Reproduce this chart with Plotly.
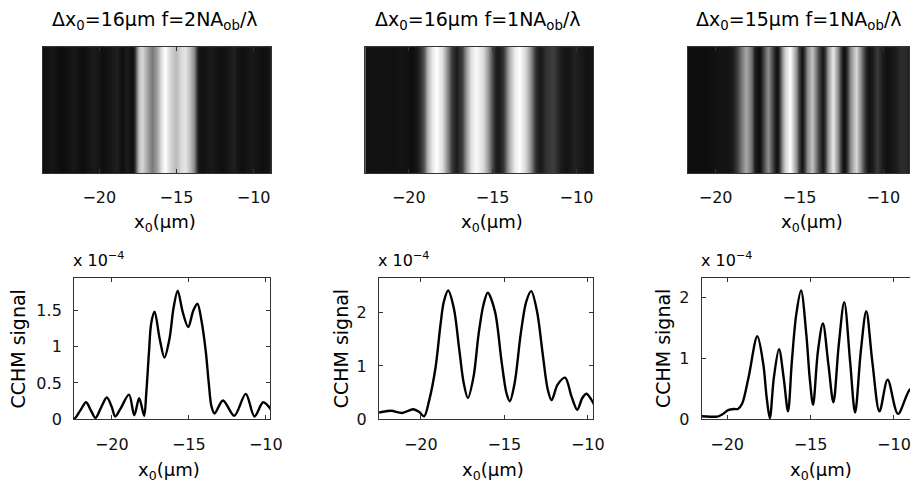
import plotly.graph_objects as go

# ---------------- data (values in units of 1e-4) ----------------
x_a = [-24.0, -23.7, -23.05, -22.45, -22.05, -21.67, -21.35, -21.06, -20.7, -20.32, -20.0,
       -19.78, -19.45, -18.88, -18.54, -18.22, -17.9, -17.76, -17.58, -17.44, -17.22,
       -16.9, -16.58, -16.26, -15.99, -15.72, -15.4, -15.04, -14.7, -14.44, -14.17,
       -13.9, -13.7, -13.53, -13.33, -12.78, -12.05, -11.3, -10.74, -10.17, -9.7,
       -9.45, -8.9, -8.6]
y_a = [0.1, 0.03, 0.2, 0.01, 0.12, 0.235, 0.12, 0.02, 0.16, 0.30, 0.17,
       0.04, 0.14, 0.34, 0.056, 0.29, 0.05, 0.36, 0.94, 1.32, 1.48,
       1.12, 0.85, 1.10, 1.53, 1.77, 1.48, 1.27, 1.50, 1.59, 1.35,
       0.94, 0.49, 0.18, 0.08, 0.26, 0.05, 0.35, 0.04, 0.235, 0.145,
       0.03, 0.2, 0.15]

x_b = [-22.9, -22.5, -21.78, -21.12, -20.45, -20.1, -19.8, -19.5, -19.11, -18.82,
       -18.62, -18.36, -18.02, -17.69, -17.43, -17.18, -16.84, -16.54, -16.25, -15.99,
       -15.56, -15.17, -14.87, -14.67, -14.38, -14.02, -13.69, -13.39, -13.04, -12.7,
       -12.4, -12.17, -11.81, -11.36, -10.98, -10.63, -10.33, -10.08, -9.68, -9.4,
       -8.8]
y_b = [0.12, 0.13, 0.16, 0.12, 0.19, 0.14, 0.055, 0.35, 0.98, 1.77,
       2.2, 2.41, 2.08, 1.29, 0.68, 0.40, 0.80, 1.59, 2.14, 2.37,
       2.02, 1.10, 0.49, 0.34, 0.68, 1.59, 2.2, 2.40, 2.02, 1.22,
       0.56, 0.36, 0.65, 0.78, 0.43, 0.18, 0.40, 0.48, 0.31, 0.15,
       0.3]

x_c = [-21.9, -21.52, -20.59, -20.3, -19.94, -19.6, -19.35, -19.11, -18.72, -18.19,
       -17.83, -17.63, -17.44, -17.2, -16.89, -16.61, -16.35, -16.12, -15.86, -15.57,
       -15.25, -15.05, -14.85, -14.56, -14.26, -13.93, -13.63, -13.31, -12.98, -12.63,
       -12.33, -11.99, -11.66, -11.3, -10.87, -10.38, -9.76, -9.04, -8.7, -8.2]
y_c = [0.05, 0.05, 0.045, 0.08, 0.15, 0.17, 0.17, 0.25, 0.68, 1.36,
       0.90, 0.36, 0.02, 0.68, 1.15, 0.68, 0.13, 0.95, 1.71, 2.11,
       1.38, 0.68, 0.24, 1.11, 1.57, 0.90, 0.28, 1.22, 1.92, 0.95,
       0.11, 1.11, 1.77, 0.95, 0.13, 0.65, 0.09, 0.49, 0.5, 0.3]

titles = ["Δx<sub>0</sub>=16μm f=2NA<sub>ob</sub>/λ",
          "Δx<sub>0</sub>=16μm f=1NA<sub>ob</sub>/λ",
          "Δx<sub>0</sub>=15μm f=1NA<sub>ob</sub>/λ"]
xlabel = "x<sub>0</sub>(μm)"
ylabel = "CCHM signal"
scale_label = "x 10<sup>−4</sup>"
x_tick_vals = [-20, -15, -10]
y_ticks = [[0, 0.5, 1, 1.5], [0, 1, 2], [0, 1, 2]]

# ---------------- layout helpers ----------------
W, H = 922, 495
FONT = "DejaVu Sans, Verdana, sans-serif"
AX = "#333333"
GRAY = [[0, "#0c0c0c"], [0.17, "#1c1c1c"], [0.32, "#3e3e3e"], [0.5, "#808080"],
        [0.65, "#aaaaaa"], [1, "#ffffff"]]


def px(v):
    return v / W


def py(v):
    return 1 - v / H


series = [(x_a, y_a), (x_b, y_b), (x_c, y_c)]

# pixel geometry of panels
hm_dom_x = [(43.5, 275), (370, 601), (697, 922)]
hm_dom_y = (48, 177)
hm_range = [[-23.65, -8.85], [-22.6, -9.0], [-21.65, -8.41]]

ln_dom_x = [(75, 274), (384, 601), (711, 922)]
ln_dom_y = (284, 428)
ln_xrange = [[-22.45, -9.7], [-22.5, -9.68], [-21.52, -9.04]]
ln_yrange = [[0, 1.94], [0, 2.64], [0, 2.31]]

fig = go.Figure()
layout = dict(
    width=W, height=H,
    margin=dict(l=0, r=0, t=0, b=0),
    paper_bgcolor="white", plot_bgcolor="white",
    showlegend=False,
    font=dict(family=FONT, size=16, color="black"),
)

annotations = []
TICKFONT = dict(size=16, color="#111111")

for i, (xs, ys) in enumerate(series):
    # heatmap panel
    hx = "x" if i == 0 else f"x{i + 1}"
    hy = "y" if i == 0 else f"y{i + 1}"
    fig.add_trace(go.Heatmap(
        x=xs, y=[0, 1], z=[ys, ys],
        colorscale=GRAY,
        zmin=0, zmax=max(ys), zsmooth="best", showscale=False,
        xaxis=hx, yaxis=hy, hoverinfo="skip",
    ))
    last = (i == 2)
    layout["xaxis" if i == 0 else f"xaxis{i + 1}"] = dict(
        domain=[px(hm_dom_x[i][0]), px(hm_dom_x[i][1])],
        anchor=hy, range=hm_range[i],
        tickvals=x_tick_vals, ticks="inside", ticklen=4, tickcolor=AX,
        showline=True, linecolor=AX, linewidth=1, mirror="ticks",
        showgrid=False, zeroline=False, ticklabelstandoff=9,
        tickfont=TICKFONT,
    )
    layout["yaxis" if i == 0 else f"yaxis{i + 1}"] = dict(
        domain=[py(hm_dom_y[1]), py(hm_dom_y[0])],
        anchor=hx, range=[-0.5, 1.5],
        showticklabels=False, ticks="",
        showline=True, linecolor=AX, linewidth=1, mirror=(not last),
        showgrid=False, zeroline=False,
    )

    # line panel
    lx = f"x{i + 4}"
    ly = f"y{i + 4}"
    fig.add_trace(go.Scatter(
        x=xs, y=ys, mode="lines",
        line=dict(color="black", width=2.4, shape="spline", smoothing=0.9),
        xaxis=lx, yaxis=ly, hoverinfo="skip",
    ))
    layout[f"xaxis{i + 4}"] = dict(
        domain=[px(ln_dom_x[i][0]), px(ln_dom_x[i][1])],
        anchor=ly, range=ln_xrange[i],
        tickvals=x_tick_vals, ticks="inside", ticklen=4, tickcolor=AX,
        showline=True, linecolor=AX, linewidth=1, mirror="ticks",
        showgrid=False, zeroline=False, ticklabelstandoff=10,
        tickfont=TICKFONT,
    )
    layout[f"yaxis{i + 4}"] = dict(
        domain=[py(ln_dom_y[1]), py(ln_dom_y[0])],
        anchor=lx, range=ln_yrange[i],
        tickvals=y_ticks[i], ticks="inside", ticklen=4, tickcolor=AX,
        showline=True, linecolor=AX, linewidth=1,
        mirror=("ticks" if not last else False),
        showgrid=False, zeroline=False, ticklabelstandoff=8,
        tickfont=TICKFONT,
    )

# text annotations
title_cx = [157.5, 484, 809.5]
hm_xlabel_cx = [167, 498.5, 823]
ln_xlabel_cx = [171.7, 499.5, 832]
ylabel_cx = [18, 345, 672]
for i in range(3):
    annotations.append(dict(
        text=titles[i], x=px(title_cx[i]), y=py(21), xref="paper", yref="paper",
        xanchor="center", yanchor="middle", showarrow=False, font=dict(size=19)))
    annotations.append(dict(
        text=xlabel, x=px(hm_xlabel_cx[i]), y=py(228), xref="paper", yref="paper",
        xanchor="center", yanchor="middle", showarrow=False, font=dict(size=18)))
    annotations.append(dict(
        text=xlabel, x=px(ln_xlabel_cx[i]), y=py(481), xref="paper", yref="paper",
        xanchor="center", yanchor="middle", showarrow=False, font=dict(size=18)))
    annotations.append(dict(
        text=ylabel, x=px(ylabel_cx[i]), y=py(356), xref="paper", yref="paper",
        xanchor="center", yanchor="middle", textangle=-90, showarrow=False,
        font=dict(size=19)))
    annotations.append(dict(
        text=scale_label, x=px(ln_dom_x[i][0] - 3), y=py(278), xref="paper", yref="paper",
        xanchor="left", yanchor="bottom", showarrow=False, font=dict(size=16)))

layout["annotations"] = annotations
fig.update_layout(**layout)
fig.write_html("out.html")
